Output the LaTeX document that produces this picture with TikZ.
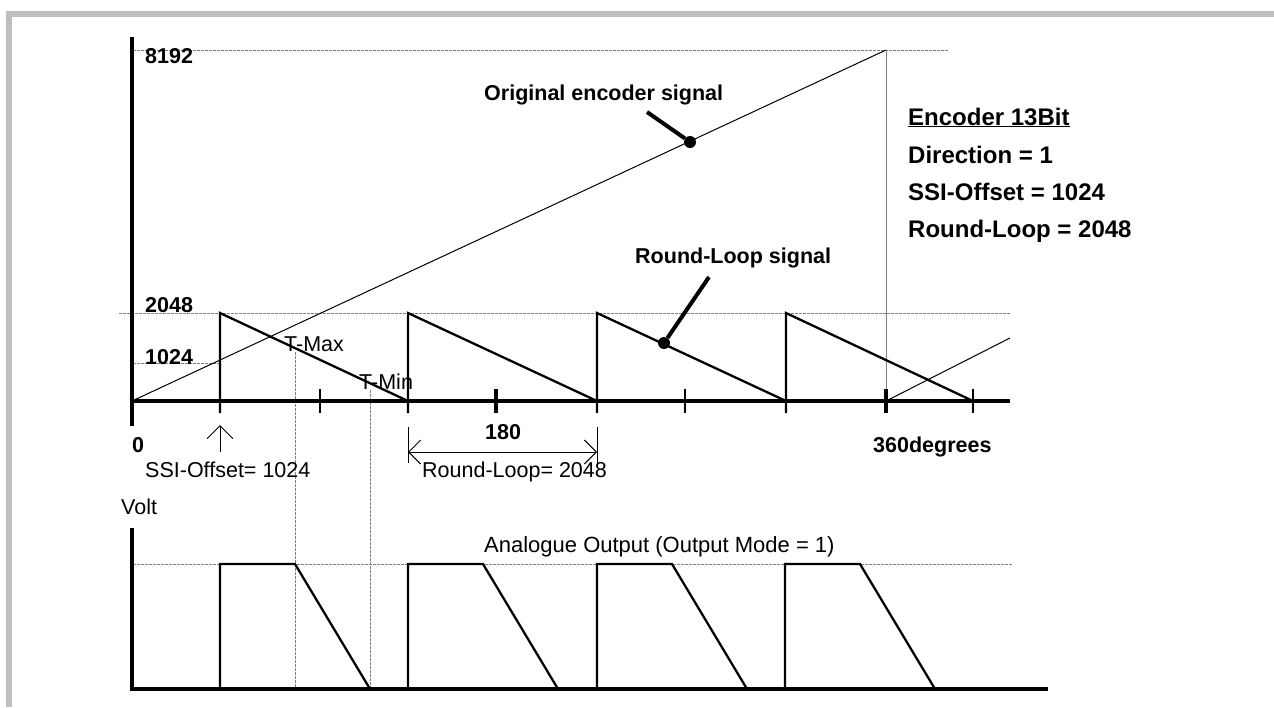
\documentclass[tikz,border=0pt]{standalone}
\usepackage{fontspec}
\setmainfont{Liberation Sans}
\usetikzlibrary{arrows.meta}
\begin{document}
\begin{tikzpicture}[x=1pt,y=-1pt,
  framecol/.style={fill=gray!50},
  grid/.style={gray, line width=0.8pt, dash pattern=on 3pt off 1pt},
  thinline/.style={black, line width=1pt},
  saw/.style={black, line width=2.3pt, line join=miter},
  axisline/.style={black, line width=4pt, line join=miter},
  tickmark/.style={black, line width=1.6pt},
  bigtick/.style={black, line width=4pt},
  leader/.style={black, line width=4pt},
  blab/.style={font=\fontsize{21.5}{24}\selectfont\bfseries, inner sep=0pt, anchor=base west},
  nlab/.style={font=\fontsize{21.5}{24}\selectfont, inner sep=0pt, anchor=base west},
  elab/.style={font=\fontsize{24}{28}\selectfont\bfseries, inner sep=0pt, anchor=base west},
  dot/.style={circle, fill=black, inner sep=0pt, minimum size=12pt},
  vhead/.style={-{Straight Barb[length=13pt,width=26pt]}},
  dimarrow/.style={{Straight Barb[length=12pt,width=24pt]}-{Straight Barb[length=12pt,width=24pt]}}
]
\useasboundingbox (0,0) rectangle (1274,707);
% frame
\fill[framecol] (6,11) rectangle (1274,17);
\fill[framecol] (6,11) rectangle (12,707);

% grid lines
\draw[grid] (133,50) -- (948,50);
\draw[grid] (119,313) -- (1010,313);
\draw[grid] (133,363) -- (220,363);
\draw[gray, line width=1pt] (886,50) -- (886,401);
\draw[grid] (295,352) -- (295,689);
\draw[grid] (370,390) -- (370,689);
\draw[grid] (133,564) -- (1012,564);

% original encoder signal
\draw[thinline] (132,401) -- (886,50);
\draw[thinline] (886,401) -- (1010,338);

% round-loop sawtooth
\draw[saw] (220,413) -- (220,313) -- (408,401);
\draw[saw] (408,413) -- (408,313) -- (597,401);
\draw[saw] (597,413) -- (597,313) -- (786,401);
\draw[saw] (786,413) -- (786,313) -- (973,401);

% ticks
\foreach \tx in {320,685,973} \draw[tickmark] (\tx,389) -- (\tx,413);
\foreach \tx in {496,886} \draw[bigtick] (\tx,389) -- (\tx,413);

% axes
\draw[axisline] (132,37) -- (132,426);
\draw[axisline] (130,401) -- (1010,401);
\draw[axisline] (132,528) -- (132,689) -- (1048,689);

% analogue output
\draw[saw] (220,689) -- (220,564) -- (295,564) -- (370,689);
\draw[saw] (408,689) -- (408,564) -- (483,564) -- (558,689);
\draw[saw] (597,689) -- (597,564) -- (672,564) -- (747,689);
\draw[saw] (785,689) -- (785,564) -- (860,564) -- (935,689);

% markers and leaders
\node[dot] (od) at (690,142) {};
\coordinate (oe) at (647,112);
\draw[leader] (od) -- (oe);
\node[dot] (rd) at (664,343) {};
\coordinate (re) at (709,277);
\draw[leader] (rd) -- (re);

% SSI offset arrow
\coordinate (ua0) at (220,452);
\coordinate (ua1) at (220,425);
\draw[thinline, vhead] (ua0) -- (ua1);

% round-loop dimension
\coordinate (dl) at (408,452);
\coordinate (dr) at (597,452);
\draw[thinline] (408,427) -- (408,463);
\draw[thinline] (597,427) -- (597,463);
\draw[thinline, dimarrow] (dl) -- (dr);

% labels
\node[blab] (t8192) at (145,63) {8192};
\node[blab] (t2048) at (145,312) {2048};
\node[blab] (t1024) at (145,364) {1024};
\node[blab] (t0) at (132,452) {0};
\node[blab] (t180) at (485,439) {180};
\node[blab] (t360) at (873,452) {360degrees};
\node[blab] (torig) at (484,100) {Original encoder signal};
\node[blab] (tround) at (635,263) {Round-Loop signal};
\node[nlab] (tmax) at (284,351) {T-Max};
\node[nlab] (tmin) at (359,389) {T-Min};
\node[nlab] (tssi) at (145,477) {SSI-Offset= 1024};
\node[nlab] (trl) at (422,477) {Round-Loop= 2048};
\node[nlab] (tvolt) at (121,514) {Volt};
\node[nlab, font=\fontsize{22}{26}\selectfont] (tana) at (484,552) {Analogue Output (Output Mode = 1)};

\node[elab] (te1) at (908,125) {\underline{Encoder 13Bit}};
\node[elab] (te2) at (908,163) {Direction = 1};
\node[elab] (te3) at (908,200) {SSI-Offset = 1024};
\node[elab] (te4) at (908,237) {Round-Loop = 2048};
\end{tikzpicture}
\end{document}
